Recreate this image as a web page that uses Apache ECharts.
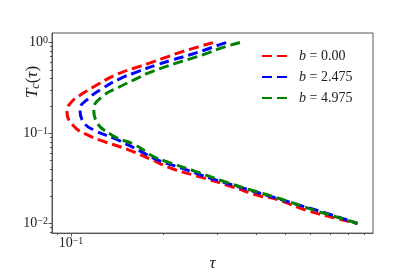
<!DOCTYPE html>
<html>
<head>
<meta charset="UTF-8">
<title>Tc vs tau</title>
<script src="https://cdn.jsdelivr.net/npm/echarts@6/dist/echarts.min.js"></script>
<style>
  html, body { margin: 0; padding: 0; background: #fff; }
  #main { width: 415px; height: 277px; }
</style>
</head>
<body>
<div id="main"></div>
<script type="text/javascript">
// curve values
var seriesNames = ['b = 0.00', 'b = 2.475', 'b = 4.975'];
var seriesColors = ['#ff0000', '#0000ff', '#008000'];

var tauRed = [0.290, 0.250, 0.224, 0.200, 0.179, 0.160, 0.143, 0.132, 0.123, 0.109, 0.0995, 0.097, 0.102, 0.114, 0.129, 0.154, 0.182, 0.215, 0.270, 0.338, 0.408, 0.468, 0.586, 0.734, 0.855];
var tcRed = [1.0, 0.864, 0.770, 0.672, 0.589, 0.52, 0.455, 0.40, 0.348, 0.273, 0.214, 0.174, 0.120, 0.0941, 0.0799, 0.0653, 0.0512, 0.0401, 0.0320, 0.0252, 0.0204, 0.0185, 0.01396, 0.01138, 0.01];

var tauBlue = [0.320, 0.298, 0.270, 0.241, 0.213, 0.190, 0.166, 0.143, 0.126, 0.114, 0.107, 0.110, 0.120, 0.139, 0.166, 0.193, 0.2265, 0.2836, 0.3552, 0.4447, 0.557, 0.698, 0.858];
var tcBlue = [1.0, 0.923, 0.817, 0.723, 0.640, 0.567, 0.481, 0.393, 0.308, 0.2415, 0.182, 0.131, 0.106, 0.0868, 0.0646, 0.0499, 0.0416, 0.0318, 0.0252, 0.02003, 0.0159, 0.01261, 0.01];

var tauGreen = [0.355, 0.313, 0.280, 0.250, 0.224, 0.200, 0.179, 0.166, 0.143, 0.126, 0.1186, 0.120, 0.136, 0.162, 0.185, 0.202, 0.250, 0.310, 0.388, 0.480, 0.601, 0.743, 0.862];
var tcGreen = [1.0, 0.885, 0.770, 0.677, 0.604, 0.531, 0.462, 0.409, 0.3205, 0.251, 0.1816, 0.1423, 0.0948, 0.0738, 0.0554, 0.0491, 0.0385, 0.0297, 0.0233, 0.0188, 0.01452, 0.01166, 0.01];

var xMajorTicks = [0.1];
var xMinorTicks = [0.09, 0.2, 0.3, 0.4, 0.5, 0.6, 0.7, 0.8, 0.9];
var yMajorTicks = [0.01, 0.1, 1];
var yMinorTicks = [0.008, 0.009, 0.02, 0.03, 0.04, 0.05, 0.06, 0.07, 0.08, 0.09, 0.2, 0.3, 0.4, 0.5, 0.6, 0.7, 0.8, 0.9];

var xMin = 0.0867, xMax = 0.963;
var yMin = 0.00784, yMax = 1.276;

function pairs(xs, ys) {
  return xs.map(function (x, i) { return [x, ys[i]]; });
}
var curves = [pairs(tauRed, tcRed), pairs(tauBlue, tcBlue), pairs(tauGreen, tcGreen)];

var serif = '"Liberation Serif", "DejaVu Serif", serif';
var axisColor = '#555';

function powLabel(v) {
  var e = Math.round(Math.log10(v));
  return '{b|10}{s|' + (e < 0 ? '\u2212' + (-e) : e) + '}';
}
var powRich = {
  b: { fontFamily: serif, fontSize: 14, color: '#222' },
  s: { fontFamily: serif, fontSize: 10, color: '#222', verticalAlign: 'top' }
};

var chart = echarts.init(document.getElementById('main'), null, { renderer: 'canvas' });

var option = {
  animation: false,
  backgroundColor: '#fff',
  grid: {
    left: 52, right: 42, top: 33, bottom: 35,
    show: true, borderColor: axisColor, borderWidth: 1, backgroundColor: 'transparent'
  },
  legend: {
    orient: 'vertical',
    left: 256,
    top: 44,
    itemWidth: 29,
    itemHeight: 14,
    itemGap: 7,
    data: seriesNames,
    itemStyle: { opacity: 0 },
    formatter: function (name) {
      return '{i|b}' + name.slice(1);
    },
    textStyle: {
      fontFamily: serif,
      fontSize: 14,
      color: '#222',
      padding: [0, 0, 0, 3],
      rich: {
        i: { fontFamily: serif, fontSize: 14, fontStyle: 'italic', color: '#222' }
      }
    }
  },
  xAxis: [
    {
      type: 'log', min: xMin, max: xMax,
      name: '\u03c4', nameLocation: 'middle', nameGap: 8,
      nameTextStyle: { fontFamily: serif, fontSize: 17, fontStyle: 'italic', color: '#222' },
      axisLine: { show: true, lineStyle: { color: axisColor, width: 1 } },
      axisTick: { show: true, length: 3.5, customValues: xMajorTicks, lineStyle: { color: axisColor } },
      axisLabel: { customValues: xMajorTicks, margin: 3, formatter: powLabel, rich: powRich },
      splitLine: { show: false }
    },
    {
      type: 'log', min: xMin, max: xMax, gridIndex: 0, position: 'bottom',
      axisLine: { show: false },
      axisTick: { show: true, length: 2, customValues: xMinorTicks, lineStyle: { color: axisColor } },
      axisLabel: { show: false },
      splitLine: { show: false }
    }
  ],
  yAxis: [
    {
      type: 'log', min: yMin, max: yMax,
      axisLine: { show: true, lineStyle: { color: axisColor, width: 1 } },
      axisTick: { show: true, length: 3.5, customValues: yMajorTicks, lineStyle: { color: axisColor } },
      axisLabel: { customValues: yMajorTicks, margin: 4, formatter: powLabel, rich: powRich },
      splitLine: { show: false }
    },
    {
      type: 'log', min: yMin, max: yMax, gridIndex: 0, position: 'left',
      axisLine: { show: false },
      axisTick: { show: true, length: 2, customValues: yMinorTicks, lineStyle: { color: axisColor } },
      axisLabel: { show: false },
      splitLine: { show: false }
    }
  ],
  graphic: [
    {
      type: 'text',
      x: 33, y: 82,
      rotation: Math.PI / 2,
      style: {
        text: '{t|T}{c|c}{p|(}{t|\u03c4}{p|)}',
        align: 'center',
        verticalAlign: 'middle',
        rich: {
          t: { fontFamily: serif, fontSize: 17, fontStyle: 'italic', fill: '#222' },
          c: { fontFamily: serif, fontSize: 12, fontStyle: 'italic', fill: '#222', verticalAlign: 'bottom' },
          p: { fontFamily: serif, fontSize: 17, fill: '#222' }
        }
      }
    }
  ],
  series: seriesNames.map(function (name, i) {
    return {
      name: name,
      type: 'line',
      xAxisIndex: 0,
      yAxisIndex: 0,
      data: curves[i],
      symbol: 'none',
      smooth: 0.5,
      color: seriesColors[i],
      lineStyle: { color: seriesColors[i], width: 3, type: [10, 5] },
      z: 2 + i
    };
  })
};

chart.setOption(option);
</script>
</body>
</html>
